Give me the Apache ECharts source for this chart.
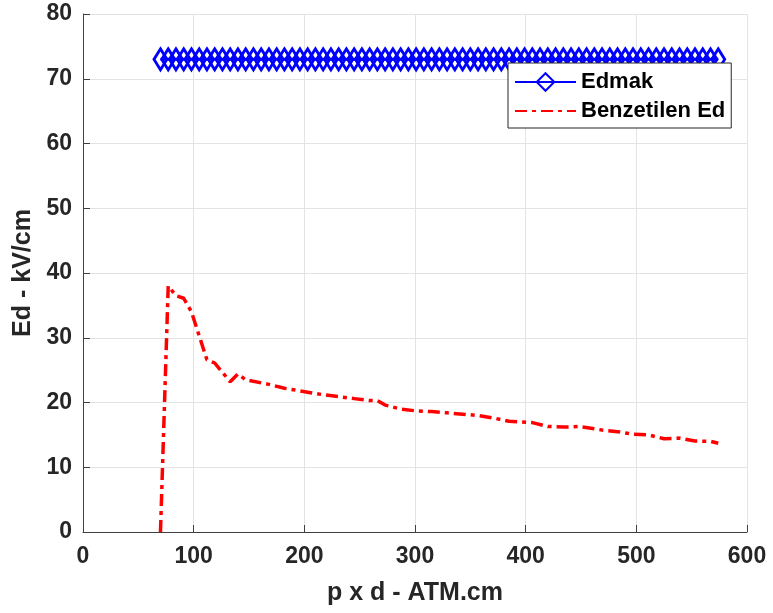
<!DOCTYPE html>
<html>
<head>
<meta charset="utf-8">
<script src="https://cdn.jsdelivr.net/npm/echarts@6/dist/echarts.min.js"></script>
<style>
html,body{margin:0;padding:0;background:#fff;}
#chart{width:773px;height:613px;}
</style>
</head>
<body>
<div id="chart"></div>
<script>
// Edmak (constant) series
const edmakX = [70,77,84,91,98,105,112,119,126,133,140,147,154,161,168,175,182,189,196,203,210,217,224,231,238,245,252,259,266,273,280,287,294,301,308,315,322,329,336,343,350,357,364,371,378,385,392,399,406,413,420,427,434,441,448,455,462,469,476,483,490,497,504,511,518,525,532,539,546,553,560,567,574];
const edmakY = [73,73,73,73,73,73,73,73,73,73,73,73,73,73,73,73,73,73,73,73,73,73,73,73,73,73,73,73,73,73,73,73,73,73,73,73,73,73,73,73,73,73,73,73,73,73,73,73,73,73,73,73,73,73,73,73,73,73,73,73,73,73,73,73,73,73,73,73,73,73,73,73,73];
// Benzetilen Ed series
const edX = [70,77,84,91,98,112,119,133,140,147,168,182,196,217,231,245,259,266,273,287,301,315,329,343,357,371,385,406,420,434,448,469,483,497,511,525,539,553,567,574];
const edY = [0,38.0,36.5,36.1,34.0,26.6,26.1,23.2,24.4,23.5,22.8,22.2,21.8,21.2,20.9,20.6,20.3,20.3,19.6,19.0,18.7,18.6,18.4,18.2,18.0,17.6,17.1,16.9,16.3,16.2,16.3,15.75,15.5,15.1,15.0,14.4,14.5,14.05,14.0,13.7];
const xTicks = [0,100,200,300,400,500,600];
const yTicks = [0,10,20,30,40,50,60,70,80];
const seriesNames = ['Edmak','Benzetilen Ed'];
const xTitle = 'p x d - ATM.cm';
const yTitle = 'Ed - kV/cm';

const FONT = '"Liberation Sans", Arial, Helvetica, sans-serif';
const chart = echarts.init(document.getElementById('chart'), null, {renderer:'canvas'});
const zip = (a,b) => a.map((v,i)=>[v,b[i]]);
chart.setOption({
  animation:false,
  backgroundColor:'#ffffff',
  grid:{left:83, right:26, top:14, bottom:81, containLabel:false},
  legend:{
    left:508, top:63, orient:'vertical',
    data:seriesNames,
    backgroundColor:'#ffffff',
    borderColor:'#262626', borderWidth:1,
    padding:[8,6,6,6],
    itemWidth:61, itemHeight:22, itemGap:7,
    textStyle:{fontFamily:FONT, fontWeight:'bold', fontSize:22, color:'#000'}
  },
  xAxis:{
    type:'value', min:xTicks[0], max:xTicks[xTicks.length-1], interval:100,
    name:xTitle, nameLocation:'middle', nameGap:49,
    nameTextStyle:{fontFamily:FONT, fontWeight:'bold', fontSize:25, color:'#262626'},
    axisLine:{lineStyle:{color:'#404040', width:1}},
    axisTick:{inside:true, length:7, lineStyle:{color:'#404040'}},
    axisLabel:{margin:13, fontFamily:FONT, fontWeight:'bold', fontSize:23, color:'#262626'},
    splitLine:{show:true, lineStyle:{color:'#e3e3e3', width:1}}
  },
  yAxis:{
    type:'value', min:yTicks[0], max:yTicks[yTicks.length-1], interval:10,
    name:yTitle, nameLocation:'middle', nameGap:46,
    nameTextStyle:{fontFamily:FONT, fontWeight:'bold', fontSize:25, color:'#262626'},
    axisLine:{show:true, lineStyle:{color:'#404040', width:1}},
    axisTick:{show:true, inside:true, length:7, lineStyle:{color:'#404040'}},
    axisLabel:{margin:11, fontFamily:FONT, fontWeight:'bold', fontSize:23, color:'#262626'},
    splitLine:{show:true, lineStyle:{color:'#e3e3e3', width:1}}
  },
  series:[
    {
      name:seriesNames[0], type:'line', data:zip(edmakX, edmakY),
      showSymbol:true, showAllSymbol:true,
      symbol:'diamond', symbolSize:[13,21],
      lineStyle:{color:'#0000ff', width:3},
      itemStyle:{color:'rgba(0,0,0,0)', borderColor:'#0000ff', borderWidth:3},
      z:3
    },
    {
      name:seriesNames[1], type:'line', data:zip(edX, edY),
      symbol:'none',
      lineStyle:{color:'#ff0000', width:3.5, type:[12,5,4,5]},
      itemStyle:{color:'rgba(0,0,0,0)', borderColor:'rgba(0,0,0,0)', borderWidth:0},
      z:2
    }
  ]
});
</script>
</body>
</html>
